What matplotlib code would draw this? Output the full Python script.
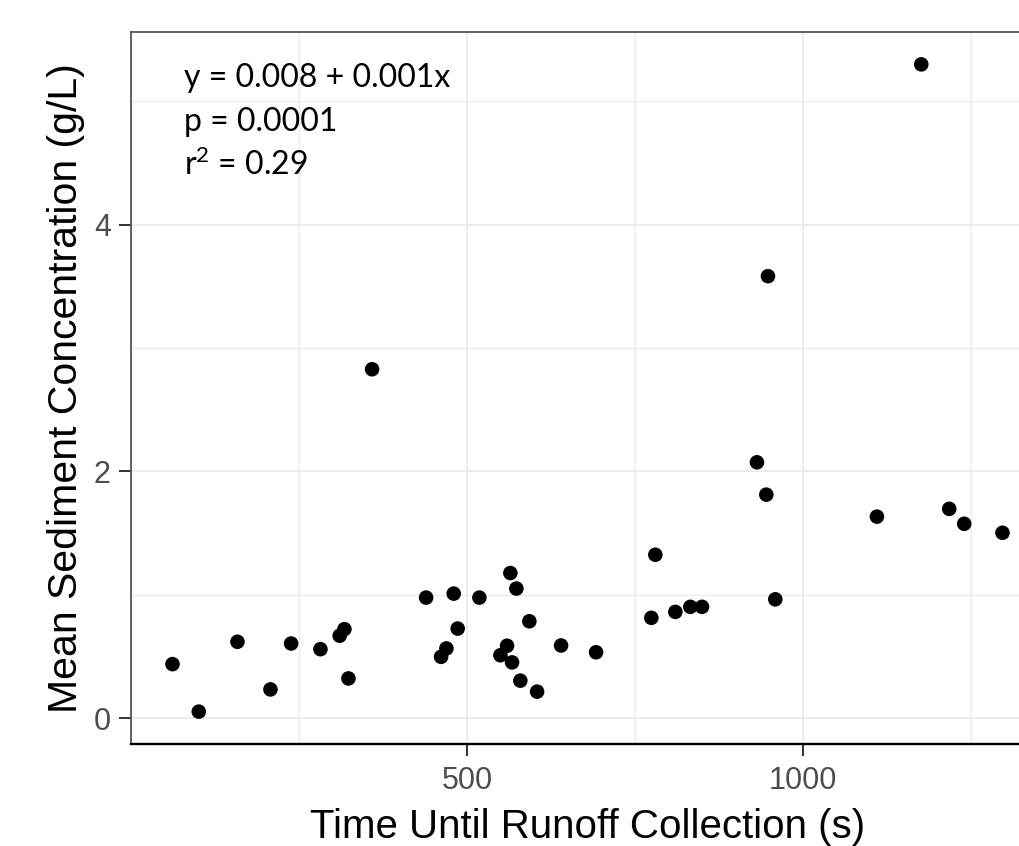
import matplotlib
matplotlib.use("Agg")
import matplotlib.pyplot as plt
import numpy as np
from matplotlib.ticker import MultipleLocator


# time until runoff collection (s) and mean sediment concentration (g/L)
time_s = [61.5, 100.6, 158.2, 207.3, 238.1, 281.7, 310.4, 317.4, 323.4, 358.6,
          439.0, 480.1, 518.3, 564.4, 573.4, 486.0, 461.3, 469.2, 592.7, 549.6,
          559.5, 567.0, 579.3, 604.2, 639.9, 692.0, 780.2, 774.3, 810.0, 832.3,
          849.7, 947.9, 931.5, 945.4, 958.8, 1176.1, 1110.1, 1217.7, 1240.0, 1297.0]
sediment = [0.439, 0.054, 0.620, 0.234, 0.606, 0.560, 0.669, 0.722, 0.323, 2.828,
            0.978, 1.010, 0.978, 1.177, 1.051, 0.727, 0.498, 0.566, 0.786, 0.511,
            0.588, 0.453, 0.305, 0.216, 0.590, 0.535, 1.325, 0.814, 0.862, 0.903,
            0.903, 3.582, 2.074, 1.812, 0.964, 5.298, 1.634, 1.697, 1.576, 1.503]

x_ticks = [500, 1000]
y_ticks = [0, 2, 4]
stats_lines = ["y = 0.008 + 0.001x", "p = 0.0001", r"r$^{\mathrm{2}}$ = 0.29"]

plt.rcParams["mathtext.fontset"] = "custom"
plt.rcParams["mathtext.rm"] = "Lato"
plt.rcParams["mathtext.it"] = "Lato:italic"

W, H = 1019, 846
fig = plt.figure(figsize=(W / 100, H / 100), dpi=100)
fig.patch.set_facecolor("white")

# panel in pixel coords: runs past the right edge like the cropped original
left, right, top, bottom = 131, 1044, 32, 744
ax = fig.add_axes([left / W, 1 - bottom / H, (right - left) / W, (bottom - top) / H])

ax.scatter(time_s, sediment, s=110, color="black", edgecolors="none", zorder=3)

# ggplot-like 5% expansion
x = np.array(time_s)
y = np.array(sediment)
xr = x.max() - x.min()
yr = y.max() - y.min()
ax.set_xlim(x.min() - 0.05 * xr, x.max() + 0.05 * xr)
ax.set_ylim(y.min() - 0.05 * yr, y.max() + 0.05 * yr)

ax.set_xticks(x_ticks)
ax.set_yticks(y_ticks)
ax.xaxis.set_minor_locator(MultipleLocator(250))
ax.yaxis.set_minor_locator(MultipleLocator(1))
ax.grid(which="major", color="#ebebeb", linewidth=1.3, zorder=0)
ax.grid(which="minor", color="#ebebeb", linewidth=0.9, zorder=0)
ax.set_axisbelow(True)
ax.tick_params(which="minor", length=0)
ax.tick_params(which="major", direction="out", length=8.5, width=1.4, color="#333333",
               labelsize=22, labelcolor="#4d4d4d")
ax.tick_params(axis="x", pad=7)
ax.tick_params(axis="y", pad=6)
for lab in ax.get_xticklabels() + ax.get_yticklabels():
    lab.set_family("Liberation Sans")

ax.spines["right"].set_visible(False)
for side in ("left", "top"):
    ax.spines[side].set_color("#555555")
    ax.spines[side].set_linewidth(1.3)
ax.spines["bottom"].set_color("black")
ax.spines["bottom"].set_linewidth(1.7)

ax.set_xlabel("Time Until Runoff Collection (s)", fontsize=29, family="Liberation Sans",
              color="black", labelpad=9)
ax.set_ylabel("Mean Sediment Concentration (g/L)", fontsize=29.5, family="Liberation Sans",
              color="black", labelpad=6)

baselines = [87, 131, 175]
for line, by in zip(stats_lines, baselines):
    fig.text(184 / W, 1 - by / H, line, fontsize=23, family="Lato", color="black",
             ha="left", va="baseline")

fig.savefig("out.png", dpi=100)
